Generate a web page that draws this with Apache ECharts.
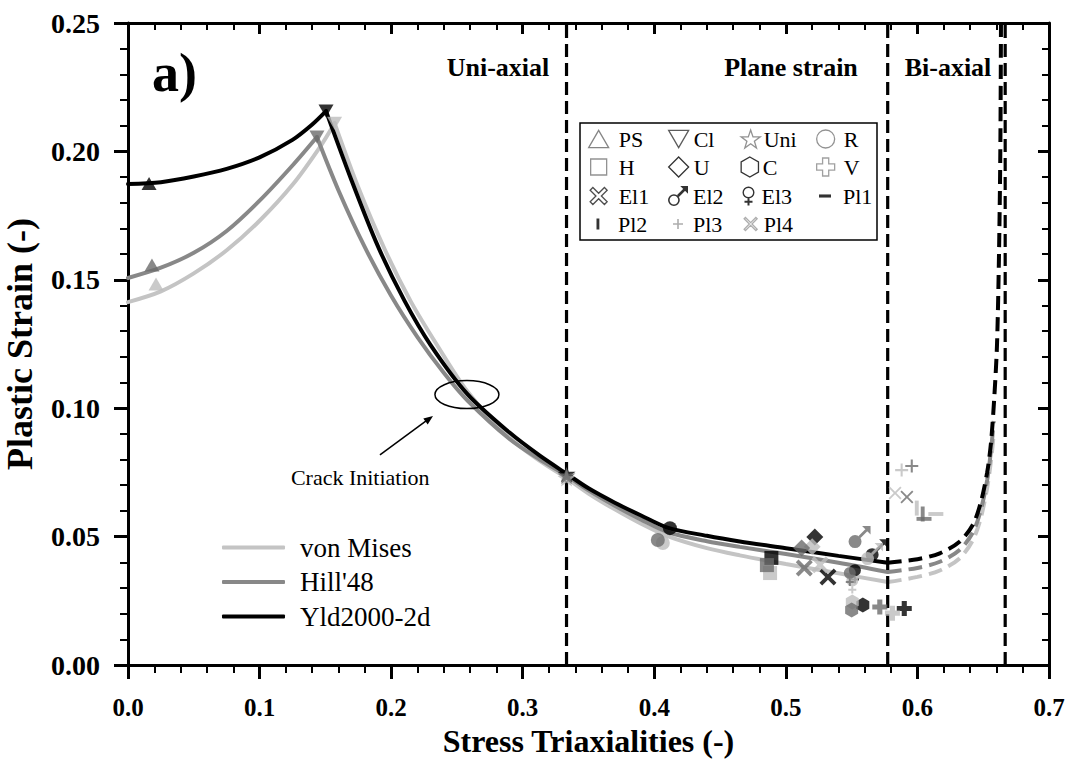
<!DOCTYPE html>
<html>
<head>
<meta charset="utf-8">
<script src="https://cdn.jsdelivr.net/npm/echarts@6/dist/echarts.min.js"></script>
<style>
  html, body { margin: 0; padding: 0; background: #ffffff; }
  #chart { width: 1074px; height: 760px; }
</style>
</head>
<body>
<div id="chart"></div>
<script>
// ---- Fracture loci: plastic strain vs. stress triaxiality ----
// von Mises
const vmRise = [[0, 0.1413], [0.025, 0.1455], [0.05, 0.1525], [0.075, 0.1615], [0.1, 0.1730], [0.125, 0.1870],
  [0.146, 0.2018], [0.157, 0.2110]];
const vmFall = [[0.157, 0.2110], [0.175, 0.186], [0.195, 0.162], [0.215, 0.1415], [0.235, 0.1245], [0.258, 0.1065],
  [0.29, 0.0885], [0.313, 0.0795], [0.3333, 0.0728], [0.35, 0.0668], [0.37, 0.0606], [0.39, 0.0550], [0.41, 0.0502],
  [0.44, 0.0455], [0.465, 0.0427], [0.5, 0.0393], [0.54, 0.0357], [0.5774, 0.0323]];
const vmBiax = [[0.5774, 0.0323], [0.60, 0.0343], [0.617, 0.0368], [0.632, 0.0415], [0.642, 0.0485], [0.648, 0.0570],
  [0.653, 0.069], [0.656, 0.080], [0.658, 0.090]];
// Hill'48
const hillRise = [[0, 0.1507], [0.025, 0.1547], [0.05, 0.1605], [0.075, 0.1690], [0.1, 0.1808], [0.125, 0.1945],
  [0.1436, 0.2056]];
const hillFall = [[0.1436, 0.2056], [0.16, 0.1848], [0.18, 0.1627], [0.20, 0.1438], [0.22, 0.1277], [0.24, 0.1138],
  [0.258, 0.1030], [0.29, 0.0880], [0.313, 0.0800], [0.3333, 0.0738], [0.35, 0.0680], [0.37, 0.0620], [0.39, 0.0566],
  [0.41, 0.0518], [0.44, 0.0482], [0.465, 0.046], [0.5, 0.0432], [0.54, 0.0398], [0.5774, 0.0362]];
const hillBiax = [[0.5774, 0.0362], [0.60, 0.0378], [0.617, 0.0402], [0.632, 0.0448], [0.642, 0.0515], [0.648, 0.060],
  [0.653, 0.072], [0.656, 0.084], [0.658, 0.095]];
// Yld2000-2d
const yldRise = [[0, 0.1873], [0.025, 0.1880], [0.05, 0.1902], [0.075, 0.1932], [0.1, 0.1977], [0.125, 0.2045],
  [0.14, 0.2105], [0.1505, 0.2157]];
const yldFall = [[0.1505, 0.2157], [0.17, 0.1886], [0.19, 0.163], [0.21, 0.142], [0.23, 0.1246], [0.258, 0.1055],
  [0.29, 0.0905], [0.313, 0.0815], [0.3333, 0.0745], [0.35, 0.0688], [0.37, 0.0632], [0.39, 0.0582], [0.41, 0.0535],
  [0.44, 0.0503], [0.465, 0.0481], [0.5, 0.0455], [0.54, 0.0425], [0.5774, 0.0398]];
const yldBiax = [[0.5774, 0.0398], [0.60, 0.0412], [0.617, 0.0435], [0.632, 0.0480], [0.642, 0.0545], [0.648, 0.0630],
  [0.653, 0.0750], [0.656, 0.0870], [0.6585, 0.1050], [0.6605, 0.125], [0.662, 0.16], [0.663, 0.20], [0.6635, 0.25]];

// Loading-state boundaries (uni-axial, plane strain, bi-axial)
const regimeLimits = [0.3333, 0.5774, 0.6667];

// ---- Specimen fracture points, one entry per specimen type ----
const specimens  = ['PS', 'Cl', 'Uni', 'R', 'H', 'U', 'C', 'V', 'El1', 'El2', 'El3', 'Pl1', 'Pl2', 'Pl3', 'Pl4'];
const yldTriax   = [0.016, 0.1505, 0.3333, 0.4119, 0.489, 0.522, 0.5585, 0.590, 0.532, 0.569, 0.5525, null, null, null, null];
const yldStrain  = [0.1875, 0.2157, 0.0745, 0.0533, 0.0417, 0.0498, 0.0234, 0.0220, 0.0343, 0.0447, 0.0355, null, null, null, null];
const vmTriax    = [0.0213, 0.157, 0.3333, 0.4065, 0.488, 0.520, 0.5505, 0.581, 0.526, 0.5655, 0.5505, 0.614, 0.5995, 0.588, 0.583];
const vmStrain   = [0.1484, 0.211, 0.0728, 0.0475, 0.0358, 0.046, 0.0245, 0.0202, 0.039, 0.0432, 0.0315, 0.0588, 0.0611, 0.0759, 0.067];
const hillTriax  = [0.0182, 0.1436, 0.3333, 0.4027, 0.4856, 0.512, 0.550, 0.5714, 0.514, 0.556, 0.5486, 0.605, 0.604, 0.5957, 0.592];
const hillStrain = [0.1558, 0.2056, 0.0738, 0.0487, 0.0389, 0.0456, 0.0214, 0.0226, 0.0378, 0.0498, 0.0345, 0.0569, 0.0588, 0.0775, 0.0654];

const xTicks = [0, 0.1, 0.2, 0.3, 0.4, 0.5, 0.6, 0.7];
const yTicks = [0, 0.05, 0.10, 0.15, 0.20, 0.25];

// ---- Styling ----
const SERIF = 'Liberation Serif';
const curveColors = { vm: '#c4c4c4', hill: '#888888', yld: '#000000' };
const pointColors = { vm: '#bdbdbd', hill: '#6b6b6b', yld: '#000000' };

// Marker glyphs (100x100 design box)
const P = {
  triUp:   'M50,0L100,86.6L0,86.6Z',
  triDown: 'M0,0L100,0L50,86.6Z',
  star:    'M50,0L61.8,34.5L97.6,34.5L68.8,55.9L79.4,90.5L50,69.1L20.6,90.5L31.2,55.9L2.4,34.5L38.2,34.5Z',
  circle:  'M0,50A50,50 0 1,1 100,50A50,50 0 1,1 0,50Z',
  square:  'M0,0H100V100H0Z',
  diamond: 'M50,0L100,50L50,100L0,50Z',
  hexagon: 'M50,0L93.3,25L93.3,75L50,100L6.7,75L6.7,25Z',
  cross:   'M33,0H67V33H100V67H67V100H33V67H0V33H33Z',
  xThick:  'M0,16L16,0L50,34L84,0L100,16L66,50L100,84L84,100L50,66L16,100L0,84L34,50Z',
  male:    'M12,62A26,26 0 1,1 64,62A26,26 0 1,1 12,62Z M52,40L84,8L92,16L60,48Z M66,0L100,0L100,34Z',
  female:  'M20,35A30,30 0 1,1 80,35A30,30 0 1,1 20,35Z M45,60H55V100H45Z M30,76H70V86H30Z',
  maleRing:   'M12,62A26,26 0 1,1 64,62A26,26 0 1,1 12,62Z M19,62A19,19 0 1,0 57,62A19,19 0 1,0 19,62Z M52,40L84,8L92,16L60,48Z M66,0L100,0L100,34Z',
  femaleRing: 'M20,35A30,30 0 1,1 80,35A30,30 0 1,1 20,35Z M27,35A23,23 0 1,0 73,35A23,23 0 1,0 27,35Z M45,62H55V100H45Z M30,76H70V86H30Z',
  barH:    'M0,0H100V26H0Z',
  barV:    'M0,0H26V100H0Z',
  plusThin:'M42,0H58V42H100V58H58V100H42V58H0V42H42Z',
  xThin:   'M0,10L10,0L50,40L90,0L100,10L60,50L100,90L90,100L50,60L10,100L0,90L40,50Z'
};
const markerGlyph = ['triUp', 'triDown', 'star', 'circle', 'square', 'diamond', 'hexagon', 'cross',
  'xThick', 'male', 'female', 'barH', 'barV', 'plusThin', 'xThin'];
const markerSize = [15, 15, 18, 14, 14, 17, 15, 15, 17, 22, 19, 15, 15, 13, 13];

function curve(name, data, color, dashed) {
  return {
    type: 'line', name: name, data: data, z: 3,
    smooth: 0.3,
    symbol: 'none', showSymbol: false, silent: true,
    lineStyle: { color: color, width: 4, type: dashed ? [14, 7] : 'solid', cap: dashed ? 'butt' : 'round' },
    itemStyle: { color: color },
    emphasis: { disabled: true }
  };
}

const series = [
  curve('von Mises', vmRise, curveColors.vm, false),
  curve("Hill'48", hillRise, curveColors.hill, false),
  curve('Yld2000-2d', yldRise, curveColors.yld, false),
  curve('von Mises', vmFall, curveColors.vm, false),
  curve("Hill'48", hillFall, curveColors.hill, false),
  curve('Yld2000-2d', yldFall, curveColors.yld, false),
  curve('von Mises', vmBiax, curveColors.vm, true),
  curve("Hill'48", hillBiax, curveColors.hill, true),
  curve('Yld2000-2d', yldBiax, curveColors.yld, true)
];

// vertical boundaries between loading states
regimeLimits.forEach(function (x) {
  series.push({
    type: 'line', data: [[x, 0], [x, 0.25]], z: 4, silent: true,
    symbol: 'none', showSymbol: false,
    lineStyle: { color: '#000', width: 3.2, type: [13, 6] },
    emphasis: { disabled: true }
  });
});

// specimen markers, drawn Yld2000-2d, then von Mises, then Hill'48 on top
specimens.forEach(function (name, i) {
  const data = [];
  [[yldTriax, yldStrain, pointColors.yld], [vmTriax, vmStrain, pointColors.vm], [hillTriax, hillStrain, pointColors.hill]]
    .forEach(function (m) {
      if (m[0][i] != null) data.push({ value: [m[0][i], m[1][i]], itemStyle: { color: m[2] } });
    });
  series.push({
    type: 'scatter', name: name, data: data, z: 6, silent: true,
    symbol: 'path://' + P[markerGlyph[i]], symbolSize: markerSize[i], symbolKeepAspect: true,
    emphasis: { disabled: true }
  });
});

function axisCommon(extra) {
  return Object.assign({
    type: 'value',
    splitLine: { show: false },
    minorSplitLine: { show: false },
    axisLine: { show: true, onZero: false, lineStyle: { color: '#000', width: 3 } }
  }, extra);
}

const xMin = xTicks[0], xMax = xTicks[xTicks.length - 1];
const yMin = yTicks[0], yMax = yTicks[yTicks.length - 1];

// ---- Legends: model curves (lower left) and specimen key (boxed, upper right) ----
const legends = [{
  data: [
    { name: 'von Mises', icon: 'roundRect' },
    { name: "Hill'48", icon: 'roundRect' },
    { name: 'Yld2000-2d', icon: 'roundRect' }
  ],
  orient: 'vertical', left: 222, top: 534, padding: 0,
  itemWidth: 63, itemHeight: 4, itemGap: 7.5,
  selectedMode: false,
  textStyle: { fontFamily: SERIF, fontSize: 27, color: '#000', lineHeight: 25, padding: [0, 0, 0, 10] }
}];

const keyRows = [139, 167, 196, 224];
const keyIconX = [598, 678, 750, 825];
const keyTextX = [618, 693, 763, 843];
const KEY_LINE = 22;
// glyph, fill, stroke, icon width, icon height
const keyStyle = {
  PS:  ['triUp', '#fff', '#666', 20, 18],
  Cl:  ['triDown', '#fff', '#333', 20, 18],
  Uni: ['star', '#fff', '#777', 19, 19],
  R:   ['circle', '#fff', '#777', 18, 18],
  H:   ['square', '#fff', '#777', 16, 16],
  U:   ['diamond', '#fff', '#000', 20, 20],
  C:   ['hexagon', '#fff', '#000', 19, 20],
  V:   ['cross', '#fff', '#888', 18, 18],
  El1: ['xThick', '#fff', '#222', 17, 17],
  El2: ['maleRing', '#000', '#000', 20, 20],
  El3: ['femaleRing', '#000', '#000', 15, 19],
  Pl1: ['barH', '#000', '#000', 12, 4],
  Pl2: ['barV', '#000', '#000', 3, 11],
  Pl3: ['plusThin', '#999', '#999', 10, 10],
  Pl4: ['xThin', '#fff', '#999', 13, 13]
};
specimens.forEach(function (name, i) {
  const row = Math.floor(i / 4), col = i % 4;
  const s = keyStyle[name];
  const w = s[3], h = s[4];
  const left = keyIconX[col] - w / 2;
  const top = keyRows[row] - Math.max(h, KEY_LINE) / 2;
  const padLeft = keyTextX[col] - (left + w + 5);
  const filled = s[1] !== '#fff';
  legends.push({
    data: [{
      name: name,
      icon: 'path://' + P[s[0]],
      itemStyle: { color: s[1], borderColor: s[2], borderWidth: filled ? 0 : 1.3 }
    }],
    left: left, top: top, padding: 0,
    itemWidth: w, itemHeight: h,
    selectedMode: false,
    textStyle: { fontFamily: SERIF, fontSize: 22, color: '#000', lineHeight: KEY_LINE, padding: [0, 0, 0, padLeft] }
  });
});

const option = {
  animation: false,
  backgroundColor: '#ffffff',
  grid: { left: 128, right: 25, top: 23, bottom: 95, containLabel: false, outerBoundsMode: 'none' },
  xAxis: [
    axisCommon({
      position: 'bottom', min: xMin, max: xMax, interval: 0.1,
      name: 'Stress Triaxialities (-)', nameLocation: 'middle', nameGap: 60, nameMoveOverlap: false,
      nameTextStyle: { fontFamily: SERIF, fontWeight: 'bold', fontSize: 32, lineHeight: 32, color: '#000' },
      axisTick: { show: true, inside: false, length: 14, lineStyle: { color: '#000', width: 3 } },
      minorTick: { show: true, splitNumber: 5, length: 8, lineStyle: { color: '#000', width: 2 } },
      axisLabel: { show: true, margin: 30, fontFamily: SERIF, fontWeight: 'bold', fontSize: 25, color: '#000',
        formatter: function (v) { return v.toFixed(1); } }
    }),
    axisCommon({
      position: 'top', min: xMin, max: xMax, interval: 0.1,
      axisTick: { show: true, inside: true, length: 11, lineStyle: { color: '#000', width: 3 } },
      minorTick: { show: true, splitNumber: 5, length: 7, lineStyle: { color: '#000', width: 2 } },
      axisLabel: { show: false }
    })
  ],
  yAxis: [
    axisCommon({
      position: 'left', min: yMin, max: yMax, interval: 0.05,
      name: 'Plastic Strain (-)', nameLocation: 'middle', nameGap: 90, nameMoveOverlap: false,
      nameTextStyle: { fontFamily: SERIF, fontWeight: 'bold', fontSize: 36, lineHeight: 36, color: '#000' },
      axisTick: { show: true, inside: false, length: 14, lineStyle: { color: '#000', width: 3 } },
      minorTick: { show: true, splitNumber: 5, length: 8, lineStyle: { color: '#000', width: 2 } },
      axisLabel: { show: true, margin: 28, fontFamily: SERIF, fontWeight: 'bold', fontSize: 28, color: '#000',
        formatter: function (v) { return v.toFixed(2); } }
    }),
    axisCommon({
      position: 'right', min: yMin, max: yMax, interval: 0.05,
      axisTick: { show: true, inside: true, length: 11, lineStyle: { color: '#000', width: 3 } },
      minorTick: { show: true, splitNumber: 5, length: 7, lineStyle: { color: '#000', width: 2 } },
      axisLabel: { show: false }
    })
  ],
  legend: legends,
  series: series
};

const chart = echarts.init(document.getElementById('chart'), null, { renderer: 'svg', width: 1074, height: 760 });
chart.setOption(option);

// ---- Annotations ----
const crackCenter = [0.2576, 0.1053];
const crackArrowFrom = [0.1915, 0.0818];
const crackArrowTo = [0.2318, 0.0970];
const crackLabelAt = [0.1765, 0.0732];

const toPx = function (p) { return chart.convertToPixel({ gridIndex: 0 }, p); };
const c = toPx(crackCenter), a0 = toPx(crackArrowFrom), a1 = toPx(crackArrowTo), lbl = toPx(crackLabelAt);
const ang = Math.atan2(a1[1] - a0[1], a1[0] - a0[0]);
const head = 10, spread = 0.38;
const headPts = [
  a1,
  [a1[0] - head * Math.cos(ang - spread), a1[1] - head * Math.sin(ang - spread)],
  [a1[0] - head * Math.cos(ang + spread), a1[1] - head * Math.sin(ang + spread)]
];

function label(x, y, text, size, weight, align) {
  return {
    type: 'text', x: x, y: y, z: 10,
    style: { text: text, fontFamily: SERIF, fontSize: size, fontWeight: weight, fill: '#000',
      align: align || 'center', verticalAlign: 'middle' }
  };
}

chart.setOption({
  graphic: [
    { type: 'ellipse', shape: { cx: c[0], cy: c[1], rx: 32, ry: 14 }, style: { fill: 'none', stroke: '#000', lineWidth: 1.5 }, z: 10 },
    { type: 'line', shape: { x1: a0[0], y1: a0[1], x2: a1[0] - 6 * Math.cos(ang), y2: a1[1] - 6 * Math.sin(ang) }, style: { stroke: '#000', lineWidth: 1.5 }, z: 10 },
    { type: 'polygon', shape: { points: headPts }, style: { fill: '#000' }, z: 10 },
    label(lbl[0], lbl[1], 'Crack Initiation', 22, 'normal'),
    label(152, 73, 'a)', 54, 'bold', 'left'),
    label(498, 67, 'Uni-axial', 26, 'bold'),
    label(791, 67, 'Plane strain', 26, 'bold'),
    label(948, 67, 'Bi-axial', 26, 'bold'),
    { type: 'rect', shape: { x: 580, y: 123, width: 297, height: 117 }, style: { fill: 'none', stroke: '#000', lineWidth: 1.5 }, z: 10 }
  ]
});
</script>
</body>
</html>
